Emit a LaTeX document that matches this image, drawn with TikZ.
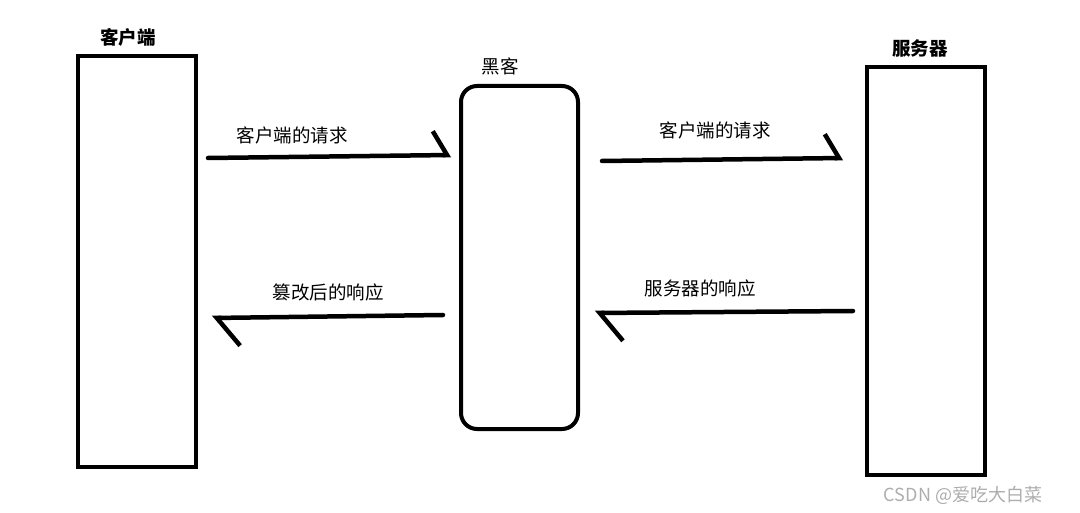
\documentclass[tikz,border=0pt]{standalone}
\usepackage{fontspec}
\setmainfont{Noto Sans CJK SC}
\usetikzlibrary{arrows.meta}

\begin{document}
\begin{tikzpicture}[x=1pt, y=-1pt, font=\fontsize{18.5}{20}\selectfont,
  box/.style={draw, line width=4.5pt, inner sep=0pt, minimum width=118pt},
  req/.style={line width=4.5pt, line cap=round, -{Straight Barb[harpoon, length=14pt, width=48pt]}},
  resp/.style={line width=4.5pt, line cap=round, -{Straight Barb[harpoon, length=23pt, width=56pt]}}]
  \useasboundingbox (0,0) rectangle (1080,513);
  % three parties
  \node[box, minimum height=411pt] (client) at (137,261.5) {};
  \node[box, line width=4pt, rounded corners=16pt, minimum width=117pt, minimum height=343pt] (hacker) at (519.5,257.5) {};
  \node[box, minimum height=408pt] (server) at (926,271) {};
  % titles
  \node[font=\fontsize{18.5}{20}\selectfont\bfseries] (clientlbl) at (128,37) {客户端};
  \node (hackerlbl) at (500,66) {黑客};
  \node[font=\fontsize{18.5}{20}\selectfont\bfseries] (serverlbl) at (920,48) {服务器};
  % arrow end points
  \coordinate (q1s) at (208,158);
  \coordinate (q1e) at (451,155);
  \coordinate (q2s) at (602,161);
  \coordinate (q2e) at (843,158);
  \coordinate (r2s) at (853,311);
  \coordinate (r2e) at (595,313);
  \coordinate (r1s) at (443,315);
  \coordinate (r1e) at (212,318);
  % requests
  \draw[req] (q1s) -- (q1e);
  \node (q1lbl) at (292,135) {客户端的请求};
  \draw[req] (q2s) -- (q2e);
  \node (q2lbl) at (715,130) {客户端的请求};
  % responses
  \draw[resp] (r2s) -- (r2e);
  \node (r2lbl) at (700,288) {服务器的响应};
  \draw[resp] (r1s) -- (r1e);
  \node (r1lbl) at (328,292) {篡改后的响应};
  % watermark
  \node[text=black!32, font=\fontsize{18}{20}\selectfont] (mark) at (963,495) {CSDN @爱吃大白菜};
\end{tikzpicture}
\end{document}
